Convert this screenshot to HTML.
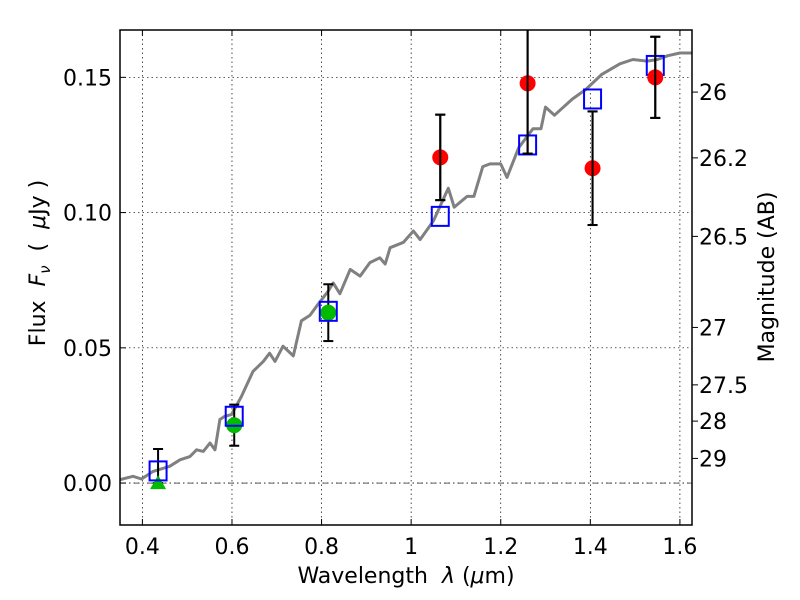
<!DOCTYPE html>
<html><head><meta charset="utf-8"><style>
body{margin:0;background:#fff}
svg{display:block;font-family:"DejaVu Sans","Liberation Sans",sans-serif}
</style></head><body>
<svg id="chart" width="800" height="600" xmlns="http://www.w3.org/2000/svg"></svg>
<script>
const modelX=[0.349,0.379,0.398,0.424,0.461,0.484,0.506,0.521,0.536,0.551,0.562,0.573,0.584,0.599,0.621,0.647,0.670,0.684,0.696,0.714,0.737,0.755,0.774,0.789,0.815,0.826,0.841,0.864,0.886,0.908,0.93,0.942,0.953,0.983,1.005,1.02,1.05,1.083,1.096,1.125,1.14,1.16,1.176,1.2,1.214,1.24,1.272,1.29,1.30,1.32,1.36,1.39,1.425,1.466,1.495,1.527,1.55,1.573,1.60,1.63];
const modelY=[0.0012,0.0025,0.0015,0.0043,0.0062,0.0086,0.0098,0.0123,0.0117,0.0148,0.0123,0.0235,0.0247,0.0253,0.032,0.0413,0.045,0.048,0.045,0.0506,0.047,0.060,0.062,0.0654,0.071,0.074,0.070,0.079,0.0765,0.0815,0.0833,0.081,0.087,0.089,0.0932,0.090,0.097,0.109,0.102,0.106,0.106,0.117,0.118,0.118,0.113,0.124,0.131,0.131,0.139,0.136,0.142,0.1455,0.151,0.155,0.1566,0.156,0.1566,0.158,0.159,0.159];
const modelFluxX=[0.435,0.605,0.815,1.065,1.26,1.405,1.545];
const modelFluxY=[0.0045,0.0247,0.0635,0.0986,0.125,0.142,0.1544];
const redX=[1.065,1.26,1.405,1.545];
const redY=[0.1204,0.1478,0.1164,0.150];
const redErr=[0.0158,0.026,0.021,0.015];
const greenX=[0.605,0.815];
const greenY=[0.0214,0.063];
const greenErr=[0.0076,0.0105];
const limitX=[0.435];
const limitY=[0.0];
const limitErr=[0.0126];
const xTicks=[0.4,0.6,0.8,1.0,1.2,1.4,1.6];
const xTickLabels=["0.4","0.6","0.8","1","1.2","1.4","1.6"];
const yTicks=[0,0.05,0.10,0.15];
const yTickLabels=["0.00","0.05","0.10","0.15"];
const magTicks=[26,26.2,26.5,27,27.5,28,29];
const magTickLabels=["26","26.2","26.5","27","27.5","28","29"];

const L=120,R=692,T=30,B=525;
const X0=0.35,X1=1.627,Y0=-0.0155,Y1=0.1675;
const sx=v=>L+(v-X0)/(X1-X0)*(R-L);
const sy=v=>B-(v-Y0)/(Y1-Y0)*(B-T);
const svg=document.getElementById('chart');
const NS='http://www.w3.org/2000/svg';
function mk(tag,attrs,parent){const e=document.createElementNS(NS,tag);for(const k in attrs)e.setAttribute(k,attrs[k]);(parent||svg).appendChild(e);return e;}

const defs=mk('defs',{});const cp=mk('clipPath',{id:'clip'},defs);mk('rect',{x:L,y:T,width:R-L,height:B-T},cp);

xTicks.forEach(v=>{const g=mk('line',{x1:sx(v),x2:sx(v),y1:T,y2:B,stroke:'#000','stroke-width':0.7,'stroke-dasharray':'1.5,3'});

});
yTicks.forEach(v=>{const g=mk('line',{x1:L,x2:R,y1:sy(v),y2:sy(v),stroke:'#000','stroke-width':0.7,'stroke-dasharray':'1.5,3'});

});
const zl=mk('line',{x1:L,x2:R,y1:sy(0),y2:sy(0),stroke:'#000','stroke-width':0.7,'stroke-dasharray':'6,3,1.5,3'});



const plot=mk('g',{'clip-path':'url(#clip)'});


const pts=modelX.map((x,i)=>sx(x).toFixed(1)+','+sy(modelY[i]).toFixed(1)).join(' ');
const ml=mk('polyline',{points:pts,fill:'none',stroke:'#808080','stroke-width':3,'stroke-linejoin':'round'},plot);



function errbar(x,y,e){const g=mk('g',{stroke:'#000','stroke-width':2},plot);


mk('line',{x1:sx(x),x2:sx(x),y1:sy(y-e),y2:sy(y+e)},g);
mk('line',{x1:sx(x)-5,x2:sx(x)+5,y1:sy(y-e),y2:sy(y-e)},g);
mk('line',{x1:sx(x)-5,x2:sx(x)+5,y1:sy(y+e),y2:sy(y+e)},g);}

limitX.forEach((x,i)=>{errbar(x,limitY[i]+limitErr[i]/2,limitErr[i]/2);
const t=mk('polygon',{points:`${sx(x)},${sy(limitY[i])-8} ${sx(x)-8},${sy(limitY[i])+6} ${sx(x)+8},${sy(limitY[i])+6}`,fill:'#00bb00'},plot);

});
greenX.forEach((x,i)=>{errbar(x,greenY[i],greenErr[i]);
const c=mk('circle',{cx:sx(x),cy:sy(greenY[i]),r:8,fill:'#00bb00'},plot);

});
modelFluxX.forEach((x,i)=>{const r=mk('rect',{x:sx(x)-8.5,y:sy(modelFluxY[i])-9.5,width:17,height:19,fill:'none',stroke:'#0000ff','stroke-width':2},plot);

});
redX.forEach((x,i)=>{errbar(x,redY[i],redErr[i]);
const c=mk('circle',{cx:sx(x),cy:sy(redY[i]),r:8,fill:'#ff0000'},plot);

});
redX.forEach((x,i)=>errbar(x,redY[i],redErr[i]));

const fr=mk('rect',{x:L,y:T,width:R-L,height:B-T,fill:'none',stroke:'#000','stroke-width':1.5});



xTicks.forEach((v,i)=>{mk('line',{x1:sx(v),x2:sx(v),y1:B,y2:B-6,stroke:'#000'});mk('line',{x1:sx(v),x2:sx(v),y1:T,y2:T+6,stroke:'#000'});
const t=mk('text',{x:sx(v),y:554,'font-size':22,'text-anchor':'middle'});t.textContent=xTickLabels[i];

});
yTicks.forEach((v,i)=>{mk('line',{x1:L,x2:L+6,y1:sy(v),y2:sy(v),stroke:'#000'});
const t=mk('text',{x:112,y:sy(v)+8,'font-size':22,'text-anchor':'end'});t.textContent=yTickLabels[i];

});
magTicks.forEach((m,i)=>{const f=Math.pow(10,(23.9-m)/2.5);const y=sy(f);
mk('line',{x1:R,x2:R+6,y1:y,y2:y,stroke:'#000'});
const t=mk('text',{x:699,y:y+8,'font-size':22});t.textContent=magTickLabels[i];

});

const xl=mk('text',{x:406,y:583,'font-size':22,'text-anchor':'middle'});
xl.innerHTML='Wavelength\u00a0\u00a0<tspan font-style="italic">λ</tspan> (<tspan font-style="italic">μ</tspan>m)';


const yl=mk('text',{x:0,y:0,'font-size':22,'text-anchor':'middle',transform:'translate(45,263) rotate(-90)'});
yl.innerHTML='Flux\u00a0\u00a0<tspan font-style="italic">F</tspan><tspan font-style="italic" font-size="15" dy="5">ν</tspan><tspan dy="-5">\u00a0\u00a0(\u00a0\u00a0</tspan><tspan font-style="italic">μ</tspan>Jy )';


const rl=mk('text',{x:0,y:0,'font-size':22,'text-anchor':'middle',transform:'translate(774,277) rotate(-90)'});
rl.textContent='Magnitude (AB)';


</script>
</body></html>
